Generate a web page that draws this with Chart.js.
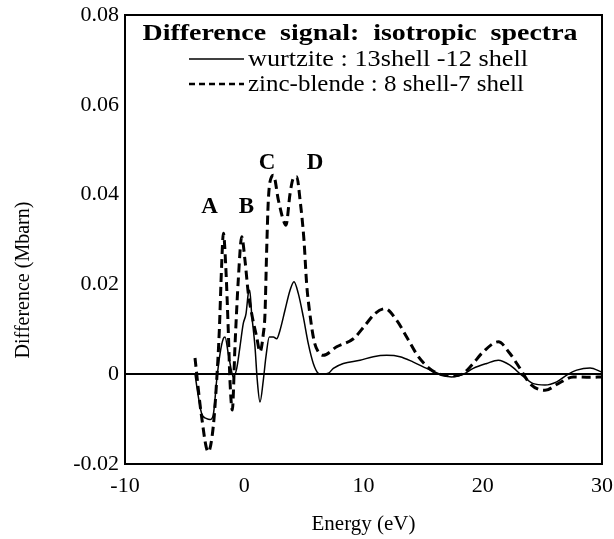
<!DOCTYPE html>
<html>
<head>
<meta charset="utf-8">
<script src="https://cdn.jsdelivr.net/npm/chart.js@4/dist/chart.umd.min.js"></script>
<style>
html,body{margin:0;padding:0;background:#fff;}
canvas{display:block;}
</style>
</head>
<body>
<canvas id="c" width="614" height="539"></canvas>
<script>
// ---- data ----
const xTickLabels = ['-10', '0', '10', '20', '30'];
const yTickLabels = ['-0.02', '0', '0.02', '0.04', '0.06', '0.08'];

const seriesNames = ['wurtzite : 13shell -12 shell', 'zinc-blende : 8 shell-7 shell'];
const chartTitle = 'Difference  signal:  isotropic  spectra';
const xTitle = 'Energy (eV)';
const yTitle = 'Difference (Mbarn)';

const wurtzX = [-4.13, -3.85, -3.57, -3.15, -2.87, -2.6, -2.31, -2.03, -1.76, -1.61, -1.34, -1.05, -0.92, -0.63, -0.36, -0.08, 0.15, 0.34, 0.46, 0.62, 0.9, 1.09, 1.32, 1.6, 1.82, 2.1, 2.44, 2.72, 3.0, 3.42, 3.84, 4.17, 4.53, 4.95, 5.37, 5.79, 6.21, 6.49, 7.05, 7.47, 8.31, 9.71, 10.82, 11.94, 13.06, 14.18, 15.3, 16.42, 17.4, 18.37, 19.2, 20.33, 21.3, 22.28, 23.26, 24.24, 25.22, 26.2, 27.04, 27.88, 29.0, 29.97];
const wurtzY = [0, -0.005, -0.0088, -0.0099, -0.0101, -0.0091, -0.0013, 0.0046, 0.0079, 0.0083, 0.0046, 0.0005, -0.0006, 0.0013, 0.0061, 0.0113, 0.0135, 0.018, 0.0187, 0.0135, 0.0061, -0.0013, -0.0062, -0.0013, 0.0039, 0.0083, 0.0083, 0.0079, 0.0098, 0.0143, 0.0187, 0.0206, 0.018, 0.0128, 0.0068, 0.0024, 0.0002, 0, 0.0002, 0.0013, 0.0024, 0.0031, 0.0039, 0.0042, 0.0039, 0.0027, 0.0013, 0, -0.0006, 0, 0.0013, 0.0024, 0.0031, 0.002, -0.0002, -0.0021, -0.0024, -0.0017, -0.0002, 0.0009, 0.0014, 0.0005];

const zincX = [-4.13, -3.6, -3.02, -2.6, -2.31, -2.09, -1.9, -1.75, -1.55, -1.34, -1.2, -1.0, -0.78, -0.5, -0.21, 0.06, 0.34, 0.62, 1.04, 1.32, 1.6, 1.74, 1.88, 2.02, 2.3, 2.45, 2.86, 3.28, 3.5, 3.84, 4.11, 4.4, 4.68, 5.01, 5.23, 5.5, 5.85, 6.2, 6.63, 7.75, 9.15, 10.13, 10.96, 11.8, 12.78, 13.62, 14.6, 15.72, 16.69, 17.53, 18.37, 19.07, 20.05, 21.3, 22.28, 23.12, 23.96, 25.22, 26.33, 27.59, 29.0, 29.97];
const zincY = [0.0036, -0.009, -0.0173, -0.0117, -0.0013, 0.0098, 0.024, 0.0314, 0.024, 0.0098, -0.0013, -0.008, 0.0061, 0.021, 0.0306, 0.0254, 0.018, 0.0135, 0.0083, 0.005, 0.009, 0.0135, 0.0276, 0.0388, 0.044, 0.0443, 0.0388, 0.0343, 0.0332, 0.0402, 0.0436, 0.044, 0.0388, 0.0298, 0.0202, 0.0135, 0.0075, 0.005, 0.0042, 0.0061, 0.0079, 0.0109, 0.0135, 0.0146, 0.012, 0.0083, 0.0039, 0.0009, -0.0002, -0.0004, 0.0002, 0.002, 0.005, 0.0072, 0.0046, 0.0013, -0.0021, -0.0036, -0.0021, -0.0006, -0.0007, -0.0006];

const peakNames = ['A', 'B', 'C', 'D'];
const peakX = [-2.91, 0.19, 1.91, 5.93];
const peakY = [0.0359, 0.0359, 0.0457, 0.0457];

// ---- helpers ----
const SERIF = '"Liberation Serif", "DejaVu Serif", serif';
function pts(xs, ys) { return xs.map((x, i) => ({ x: x, y: ys[i] })); }

function fitText(ctx, text, x, y, targetW, align) {
  const mw = ctx.measureText(text).width;
  const sx = targetW / mw;
  let left = x;
  if (align === 'center') left = x - targetW / 2;
  else if (align === 'right') left = x - targetW;
  ctx.save();
  ctx.translate(left, y);
  ctx.scale(sx, 1);
  ctx.textAlign = 'left';
  ctx.fillText(text, 0, 0);
  ctx.restore();
}

const overlay = {
  id: 'overlay',
  afterDatasetsDraw(chart) {
    const ctx = chart.ctx;
    const a = chart.chartArea;
    const xs = chart.scales.x, ys = chart.scales.y;
    ctx.save();
    // frame
    ctx.strokeStyle = '#000';
    ctx.lineWidth = 2;
    ctx.strokeRect(a.left, a.top, a.right - a.left, a.bottom - a.top);

    ctx.fillStyle = '#000';
    ctx.textBaseline = 'alphabetic';
    // title inside the plot
    ctx.font = 'bold 23px ' + SERIF;
    fitText(ctx, chartTitle, 360, 40, 435, 'center');

    // legend rows
    ctx.font = '23px ' + SERIF;
    fitText(ctx, seriesNames[0], 248, 66, 280, 'left');
    fitText(ctx, seriesNames[1], 248, 91, 276, 'left');

    ctx.beginPath();
    ctx.lineWidth = 1.5;
    ctx.setLineDash([]);
    ctx.moveTo(189, 59); ctx.lineTo(244, 59);
    ctx.stroke();
    ctx.beginPath();
    ctx.lineWidth = 2.5;
    ctx.setLineDash([6, 4]);
    ctx.moveTo(189, 84); ctx.lineTo(244, 84);
    ctx.stroke();
    ctx.setLineDash([]);

    // peak labels
    ctx.font = 'bold 23px ' + SERIF;
    ctx.textAlign = 'center';
    for (let i = 0; i < peakNames.length; i++) {
      ctx.fillText(peakNames[i], xs.getPixelForValue(peakX[i]), ys.getPixelForValue(peakY[i]));
    }

    // y axis title
    ctx.font = '20px ' + SERIF;
    ctx.textAlign = 'center';
    ctx.textBaseline = 'middle';
    ctx.translate(24, 280);
    ctx.rotate(-Math.PI / 2);
    ctx.fillText(yTitle, 0, 0);
    ctx.restore();
  }
};

new Chart(document.getElementById('c'), {
  type: 'line',
  data: {
    datasets: [
      {
        label: seriesNames[0],
        data: pts(wurtzX, wurtzY),
        borderColor: '#000',
        borderWidth: 1.5,
        pointRadius: 0,
        fill: false,
        cubicInterpolationMode: 'monotone'
      },
      {
        label: seriesNames[1],
        data: pts(zincX, zincY),
        borderColor: '#000',
        borderWidth: 3,
        borderDash: [9, 5],
        pointRadius: 0,
        fill: false,
        cubicInterpolationMode: 'monotone'
      }
    ]
  },
  options: {
    responsive: false,
    animation: false,
    events: [],
    layout: { padding: { top: 15, right: 12, left: 0, bottom: 0 } },
    plugins: { legend: { display: false }, tooltip: { enabled: false }, title: { display: false } },
    scales: {
      x: {
        type: 'linear',
        min: -10, max: 30,
        afterFit: s => { s.height = 75; s.paddingLeft = 0; s.paddingRight = 0; },
        grid: { display: false, drawTicks: false },
        border: { display: false },
        ticks: {
          stepSize: 10,
          color: '#000',
          padding: 9,
          maxRotation: 0,
          font: { family: SERIF, size: 22 },
          callback: (v, i) => xTickLabels[i]
        },
        title: {
          display: true,
          text: xTitle,
          color: '#000',
          font: { family: SERIF, size: 21 },
          padding: { top: 0, bottom: 2 }
        }
      },
      y: {
        type: 'linear',
        min: -0.02, max: 0.08,
        afterFit: s => { s.width = 125; s.paddingTop = 0; s.paddingBottom = 0; },
        grid: {
          drawTicks: false,
          color: c => (Math.abs(c.tick.value) < 1e-9 ? '#000' : 'rgba(0,0,0,0)'),
          lineWidth: 2
        },
        border: { display: false },
        ticks: {
          stepSize: 0.02,
          color: '#000',
          padding: 6,
          font: { family: SERIF, size: 22 },
          callback: (v, i) => yTickLabels[i]
        }
      }
    }
  },
  plugins: [overlay]
});
</script>
</body>
</html>
